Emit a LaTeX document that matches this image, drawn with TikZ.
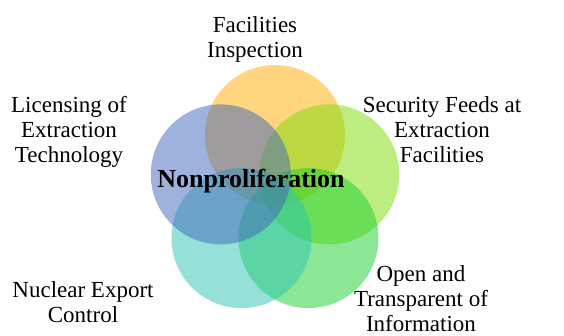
\documentclass[tikz,border=0pt]{standalone}
\usepackage{fontspec}
\setmainfont{Liberation Serif}
\begin{document}
\begin{tikzpicture}[x=1pt,y=-1pt,
  petal/.style={fill opacity=0.5, draw=none},
  label/.style={inner sep=0pt, align=center, anchor=base,
    font=\fontsize{23}{25}\selectfont},
  hub/.style={inner sep=0pt, anchor=base,
    font=\fontsize{26}{28}\selectfont\bfseries}]
  \definecolor{cTop}{RGB}{255,173,0}
  \definecolor{cLeft}{RGB}{65,101,189}
  \definecolor{cRight}{RGB}{125,221,5}
  \definecolor{cBotR}{RGB}{25,209,45}
  \definecolor{cBotL}{RGB}{45,197,181}
  \useasboundingbox (0,0) rectangle (564,336);
  \fill[white] (0,0) rectangle (564,336);

  % five overlapping circles on a pentagon around (275,192)
  \coordinate (ctr) at (275,192);
  \fill[petal, cTop]   (ctr) ++(0,-57)      circle (70);
  \fill[petal, cRight] (ctr) ++(54.2,-17.6) circle (70);
  \fill[petal, cBotR]  (ctr) ++(33.5,46.1)  circle (70);
  \fill[petal, cBotL]  (ctr) ++(-33.5,46.1) circle (70);
  \fill[petal, cLeft]  (ctr) ++(-54.2,-17.6) circle (70);

  \node[hub] (hub) at (251,188) {Nonproliferation};

  % labels are placed by the baseline of their last line
  \node[label] (top) at (255,58) {Facilities\\Inspection};
  \node[label] (lft) at (69,163) {Licensing of\\Extraction\\Technology};
  \node[label] (rgt) at (442,163) {Security Feeds at\\Extraction\\Facilities};
  \node[label] (bl)  at (83,322) {Nuclear Export\\Control};
  \node[label] (br)  at (421,331) {Open and\\Transparent of\\Information};
\end{tikzpicture}
\end{document}
